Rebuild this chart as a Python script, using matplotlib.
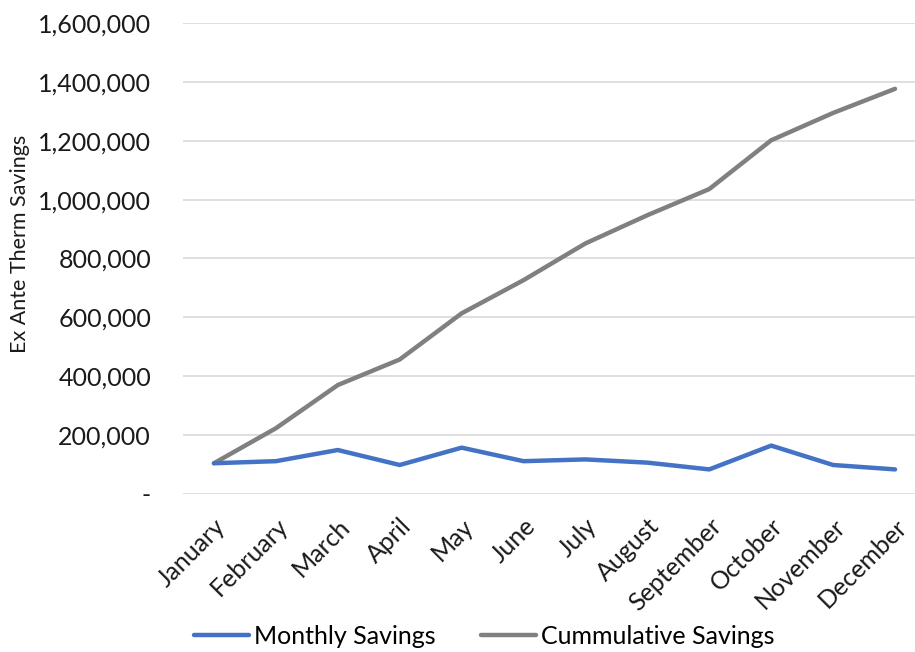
import matplotlib
matplotlib.use("Agg")
import matplotlib.pyplot as plt
from matplotlib.ticker import FuncFormatter, MultipleLocator

months = ["January", "February", "March", "April", "May", "June",
          "July", "August", "September", "October", "November", "December"]
monthly_savings = [103000, 110000, 148000, 97000, 156000, 110000,
                   116000, 105000, 82000, 163000, 97000, 82000]
cumulative_savings = [103000, 222000, 369000, 456000, 613000, 726000,
                      851000, 947000, 1036000, 1202000, 1295000, 1377000]

plt.rcParams["font.family"] = ["Lato", "DejaVu Sans"]

W, H = 915, 652
fig = plt.figure(figsize=(W / 100, H / 100), dpi=100)
left, right, top, bottom = 183, 926, 23.3, 493.5
ax = fig.add_axes([left / W, (H - bottom) / H, (right - left) / W, (bottom - top) / H])

x = range(len(months))
ax.plot(x, monthly_savings, color="#4472C4", lw=3.2, solid_capstyle="round",
        solid_joinstyle="round", label="Monthly Savings", zorder=3)
ax.plot(x, cumulative_savings, color="#808080", lw=3.2, solid_capstyle="round",
        solid_joinstyle="round", label="Cummulative Savings", zorder=2)

ax.set_xlim(-0.5, len(months) - 0.5)
ax.set_ylim(0, 1600000)
ax.yaxis.set_major_locator(MultipleLocator(200000))
ax.yaxis.set_major_formatter(FuncFormatter(lambda v, p: "-" if v == 0 else f"{v:,.0f}"))
ax.grid(axis="y", color="#D9D9D9", lw=1.2)
ax.set_axisbelow(True)
for s in ax.spines.values():
    s.set_visible(False)
ax.tick_params(axis="y", length=0, pad=23, labelsize=18, labelcolor="#1a1a1a")
ax.tick_params(axis="x", length=0, pad=15, labelsize=18, labelcolor="#1a1a1a")

ax.set_xticks(list(x))
ax.set_xticklabels(months, rotation=45, ha="right", rotation_mode="anchor")

ax.set_ylabel("Ex Ante Therm Savings", fontsize=15.5, color="#1a1a1a")
ax.yaxis.set_label_coords(-(left - 30) / (right - left), (bottom - 243.5) / (bottom - top))

ax.legend(loc="center", bbox_to_anchor=(484 / W, (H - 636) / H),
          bbox_transform=fig.transFigure, ncol=2, frameon=False, fontsize=18,
          handlelength=2.2, columnspacing=1.8, handletextpad=0.2)

fig.savefig("out.png", dpi=100)
